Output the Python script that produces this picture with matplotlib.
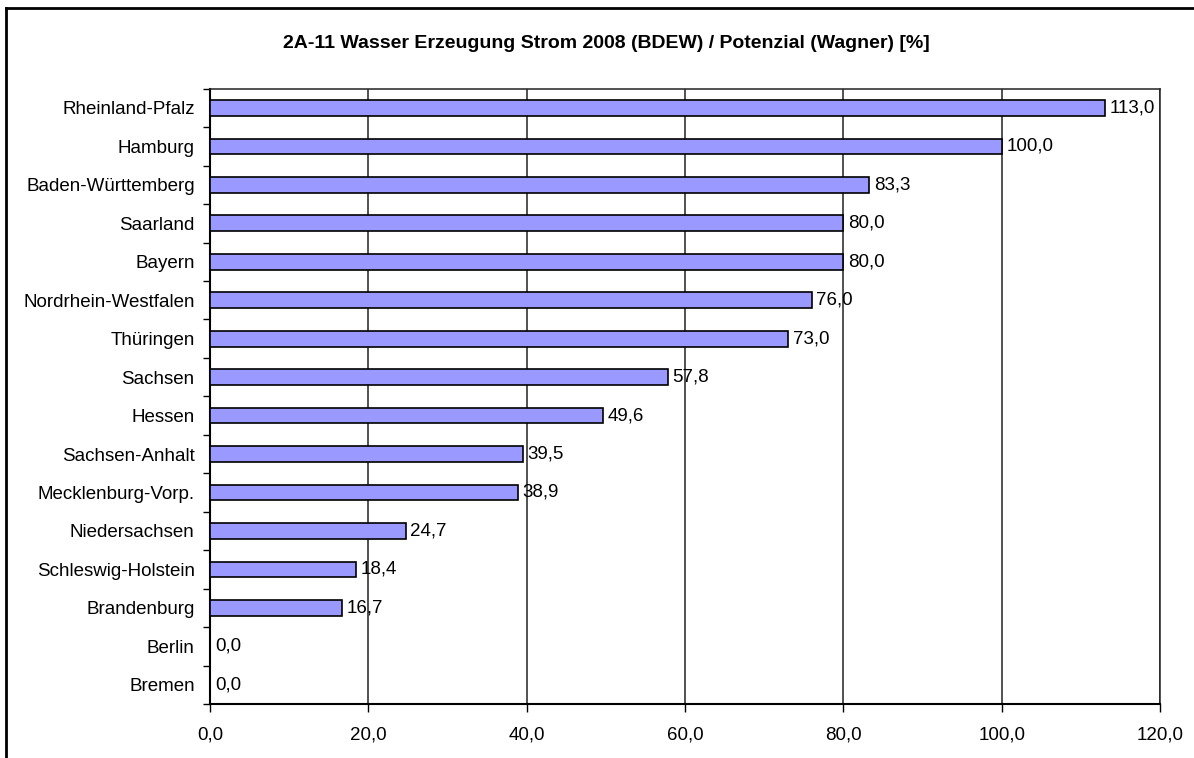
import matplotlib.pyplot as plt
import numpy as np
from matplotlib.lines import Line2D

plt.rcParams['font.family'] = ['Liberation Sans', 'DejaVu Sans']

title = "2A-11 Wasser Erzeugung Strom 2008 (BDEW) / Potenzial (Wagner) [%]"
laender = ["Rheinland-Pfalz", "Hamburg", "Baden-Württemberg", "Saarland", "Bayern",
           "Nordrhein-Westfalen", "Thüringen", "Sachsen", "Hessen", "Sachsen-Anhalt",
           "Mecklenburg-Vorp.", "Niedersachsen", "Schleswig-Holstein", "Brandenburg",
           "Berlin", "Bremen"]
werte = [113.0, 100.0, 83.3, 80.0, 80.0, 76.0, 73.0, 57.8, 49.6, 39.5,
         38.9, 24.7, 18.4, 16.7, 0.0, 0.0]
x_ticks = [0, 20, 40, 60, 80, 100, 120]

fig = plt.figure(figsize=(11.94, 7.58), dpi=100)
W, H = 1194, 758
ax = fig.add_axes([210 / W, 1 - 704 / H, 950 / W, (704 - 88.7) / H])

n = len(laender)
pos = np.arange(n)
ax.barh(pos, werte, height=0.41, color="#9999FF", edgecolor="black", linewidth=1.2, zorder=3)
ax.set_ylim(n - 0.5, -0.5)
ax.set_xlim(0, 120)

# Werte-Beschriftung
for p, v in zip(pos, werte):
    ax.text(v + 0.6, p, f"{v:.1f}".replace(".", ","), va="center", ha="left", fontsize=13.5, zorder=4)

# x-Achse
ax.set_xticks(x_ticks)
ax.set_xticklabels([f"{t:.1f}".replace(".", ",") for t in x_ticks], fontsize=13.5)
ax.tick_params(axis="x", direction="out", length=6, width=1, pad=10)
ax.grid(axis="x", color="#222222", linewidth=1.1, zorder=1)

# y-Achse: Kategorien als Minor-Labels, Striche an den Grenzen
ax.set_yticks(np.arange(n + 1) - 0.5)
ax.set_yticklabels([])
ax.tick_params(axis="y", which="major", direction="out", length=5, width=1)
ax.set_yticks(pos, minor=True)
ax.set_yticklabels(laender, minor=True, fontsize=13.5)
ax.tick_params(axis="y", which="minor", length=0, pad=11)

for s in ["top", "right"]:
    ax.spines[s].set_color("#222222")
    ax.spines[s].set_linewidth(1.1)
for s in ["left", "bottom"]:
    ax.spines[s].set_color("black")
    ax.spines[s].set_linewidth(1.5)

fig.text(606 / W, 1 - 44 / H, title, ha="center", va="center", fontsize=14, fontweight="bold")

# äußerer Rahmen (nur oben und links sichtbar)
fig.add_artist(Line2D([6 / W, 6 / W], [0, 1 - 8 / H], color="black", linewidth=2, transform=fig.transFigure))
fig.add_artist(Line2D([6 / W, 1], [1 - 8 / H, 1 - 8 / H], color="black", linewidth=2, transform=fig.transFigure))

fig.savefig("out.png", dpi=100)
